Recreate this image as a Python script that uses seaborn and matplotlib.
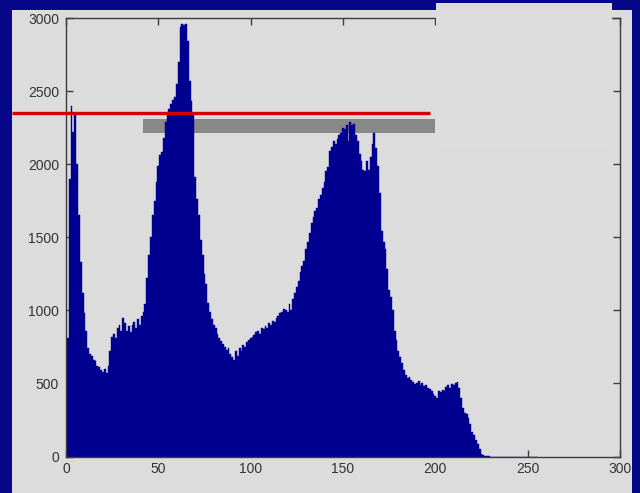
import numpy as np
import pandas as pd
import matplotlib
matplotlib.use("Agg")
import matplotlib.pyplot as plt
from matplotlib.patches import Rectangle
import seaborn as sns

# Grey-level histogram of an 8-bit image (counts per intensity level 0..255)
counts_0_49 = [
    240, 810, 1900, 2400, 2220, 2340, 2000, 1650, 1330, 1120,
    980, 860, 740, 700, 690, 660, 650, 620, 610, 590,
    575, 600, 570, 620, 720, 820, 840, 810, 880, 900,
    860, 950, 910, 860, 890, 850, 900, 920, 880, 940,
    900, 960, 990, 1040, 1220, 1380, 1500, 1650, 1750, 1880,
]
counts_50_99 = [
    1990, 2060, 2080, 2180, 2290, 2340, 2380, 2410, 2440, 2460,
    2550, 2700, 2940, 2960, 2955, 2960, 2840, 2570, 2430, 2340,
    1910, 1760, 1650, 1480, 1380, 1250, 1180, 1050, 990, 940,
    900, 880, 840, 810, 790, 770, 750, 730, 740, 700,
    680, 660, 720, 690, 740, 720, 760, 750, 780, 800,
]
counts_100_149 = [
    810, 820, 830, 850, 860, 840, 880, 870, 890, 880,
    910, 900, 930, 920, 950, 960, 980, 990, 1010, 1000,
    990, 1040, 1000, 1080, 1120, 1160, 1200, 1260, 1300, 1340,
    1420, 1470, 1530, 1600, 1640, 1680, 1700, 1760, 1790, 1840,
    1880, 1950, 1980, 2090, 2120, 2160, 2140, 2170, 2200, 2210,
]
counts_150_199 = [
    2250, 2240, 2270, 2160, 2290, 2270, 2275, 2200, 2160, 2070,
    2020, 1960, 1950, 2020, 1960, 2050, 2140, 2210, 2110, 1990,
    1800, 1540, 1470, 1420, 1280, 1140, 1090, 1000, 860, 800,
    720, 680, 640, 590, 560, 540, 545, 520, 510, 495,
    500, 515, 490, 505, 480, 490, 470, 465, 450, 430,
]
counts_200_255 = [
    415, 400, 445, 440, 455, 450, 475, 490, 470, 495,
    490, 500, 510, 470, 400, 330, 300, 290, 260, 220,
    170, 150, 110, 85, 50, 20, 10, 5, 3, 2,
    0, 0, 0, 0, 0, 0, 0, 0, 0, 0,
    0, 0, 0, 0, 0, 0, 0, 0, 0, 0,
    0, 0, 0, 0, 0, 0,
]
counts = counts_0_49 + counts_50_99 + counts_100_149 + counts_150_199 + counts_200_255
levels = list(range(256))

x_ticks = [0, 50, 100, 150, 200, 250, 300]
y_ticks = [0, 500, 1000, 1500, 2000, 2500, 3000]

# Threshold marker (red line) and the band just below it
threshold_level = 2350
threshold_x = [-29, 197]
band_x = [41.6, 200]
band_y = [2210, 2306]

df = pd.DataFrame({"level": levels, "count": counts})

sns.set_style("ticks")
plt.rcParams["font.family"] = ["Liberation Sans", "DejaVu Sans"]

W, H = 640, 493
fig = plt.figure(figsize=(W / 100, H / 100), dpi=100)
fig.patch.set_facecolor("#07078a")

panel_color = "#dcdcdc"
# Light grey window panel on the dark slide background
fig.add_artist(Rectangle((12 / W, 0), (632 - 12) / W, (H - 10) / H,
                         transform=fig.transFigure, facecolor=panel_color,
                         edgecolor="none", zorder=-10))

ax = fig.add_axes([66 / W, 1 - 456.5 / H, (620 - 66) / W, (456.5 - 18) / H])
ax.set_facecolor(panel_color)

# Grey band behind the histogram
ax.add_patch(Rectangle((band_x[0], band_y[0]), band_x[1] - band_x[0],
                       band_y[1] - band_y[0], facecolor="#888888",
                       edgecolor="none", zorder=0.5))

bar_color = "#000090"
sns.histplot(data=df, x="level", weights="count", discrete=True,
             element="bars", color=bar_color, edgecolor=bar_color,
             linewidth=0.3, alpha=1.0, ax=ax, zorder=1)

# Red threshold line, extending past the left axis
ax.plot(threshold_x, [threshold_level, threshold_level], color="#d40000",
        linewidth=2.4, solid_capstyle="butt", clip_on=False, zorder=3)

ax.set_xlim(0, 300)
ax.set_ylim(0, 3000)
ax.set_xticks(x_ticks)
ax.set_yticks(y_ticks)
ax.set_xticklabels([str(v) for v in x_ticks])
ax.set_yticklabels([str(v) for v in y_ticks])
ax.set_xlabel("")
ax.set_ylabel("")

for s in ax.spines.values():
    s.set_visible(True)
    s.set_color("#3c3c3c")
    s.set_linewidth(1.0)
ax.tick_params(direction="in", length=5, width=1.0, color="#3c3c3c",
               top=True, right=True, labelsize=10, labelcolor="#333333")
ax.tick_params(axis="x", pad=4)
ax.tick_params(axis="y", pad=5)

# Pale box over the upper-right corner of the panel
fig.add_artist(Rectangle((435.5 / W, 1 - 147 / H), (612 - 435.5) / W, (147 - 3) / H,
                         transform=fig.transFigure, facecolor="#dddddd",
                         edgecolor="none", zorder=5))

fig.savefig("out.png", dpi=100, facecolor=fig.get_facecolor())
